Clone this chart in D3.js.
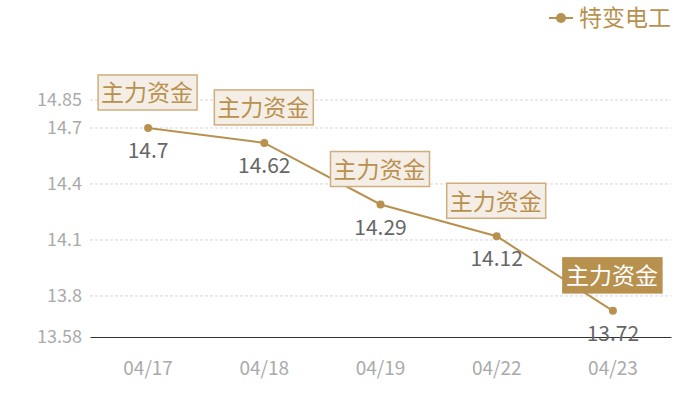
<!DOCTYPE html>
<html>
<head>
<meta charset="utf-8">
<script src="https://cdn.jsdelivr.net/npm/d3@7"></script>
<style>
  body { margin: 0; background: #fff; }
  svg { font-family: "Noto Sans CJK SC", "Noto Sans", sans-serif; }
</style>
</head>
<body>
<div id="chart"></div>
<script>
// chart data
const DATES = ["04/17", "04/18", "04/19", "04/22", "04/23"];
const PRICES = [14.7, 14.62, 14.29, 14.12, 13.72];
const Y_TICKS = [13.58, 13.8, 14.1, 14.4, 14.7, 14.85];
const SERIES_NAME = "特变电工";
const MARK_TEXT = "主力资金";

const FRAME_WIDTH = 700;
const FRAME_HEIGHT = 400;
const MARGINS = {left: 90, right: 29, top: 100, bottom: 63};
const GOLD = "#b8914f";

const svg = d3.select("#chart")
  .append("svg")
    .attr("width", FRAME_WIDTH)
    .attr("height", FRAME_HEIGHT);

const X_SCALE = d3.scaleBand()
  .domain(DATES)
  .range([MARGINS.left, FRAME_WIDTH - MARGINS.right]);

const Y_SCALE = d3.scaleLinear()
  .domain([13.58, 14.85])
  .range([FRAME_HEIGHT - MARGINS.bottom, MARGINS.top]);

const cx = (d) => X_SCALE(d) + X_SCALE.bandwidth() / 2;

// grid lines
svg.append("g")
  .selectAll("line")
  .data(Y_TICKS.slice(1))
  .enter()
  .append("line")
    .attr("x1", MARGINS.left)
    .attr("x2", FRAME_WIDTH - MARGINS.right)
    .attr("y1", (d) => Y_SCALE(d))
    .attr("y2", (d) => Y_SCALE(d))
    .attr("stroke", "#d6d6d6")
    .attr("stroke-dasharray", "3,2");

// y axis labels
svg.append("g")
  .selectAll("text")
  .data(Y_TICKS)
  .enter()
  .append("text")
    .attr("x", MARGINS.left - 8)
    .attr("y", (d) => Y_SCALE(d))
    .attr("dy", "0.35em")
    .attr("text-anchor", "end")
    .attr("font-size", "18px")
    .attr("fill", "#aaaaaa")
    .text((d) => d);

// x axis
const xAxis = svg.append("g")
  .attr("transform", "translate(0," + Y_SCALE(13.58) + ")")
  .call(d3.axisBottom(X_SCALE).tickSize(0).tickPadding(25));
xAxis.select(".domain").attr("stroke", "#333").attr("stroke-width", 1);
xAxis.selectAll("text")
  .attr("font-size", "19px")
  .attr("fill", "#aaaaaa")
  .attr("font-family", "\"Noto Sans CJK SC\", sans-serif");

// line
const line = d3.line()
  .x((d, i) => cx(DATES[i]))
  .y((d) => Y_SCALE(d));

svg.append("path")
  .datum(PRICES)
  .attr("d", line)
  .attr("fill", "none")
  .attr("stroke", GOLD)
  .attr("stroke-width", 2);

// points
svg.append("g")
  .selectAll("circle")
  .data(PRICES)
  .enter()
  .append("circle")
    .attr("cx", (d, i) => cx(DATES[i]))
    .attr("cy", (d) => Y_SCALE(d))
    .attr("r", 4)
    .attr("fill", GOLD);

// value labels
svg.append("g")
  .selectAll("text")
  .data(PRICES)
  .enter()
  .append("text")
    .attr("x", (d, i) => cx(DATES[i]))
    .attr("y", (d) => Y_SCALE(d) + 30)
    .attr("text-anchor", "middle")
    .attr("font-size", "21px")
    .attr("fill", "#666666")
    .text((d) => d);

// annotation boxes
const marks = svg.append("g")
  .selectAll("g")
  .data(PRICES)
  .enter()
  .append("g")
    .attr("transform", (d, i) => "translate(" + cx(DATES[i]) + "," + (Y_SCALE(d) - 18) + ")");

marks.append("rect")
  .attr("x", -50)
  .attr("y", -35)
  .attr("width", 99)
  .attr("height", 35)
  .attr("fill", (d, i) => i === PRICES.length - 1 ? GOLD : "#f4eee6")
  .attr("stroke", (d, i) => i === PRICES.length - 1 ? GOLD : "#cfae7e")
  .attr("stroke-width", 1.5);

marks.append("text")
  .attr("x", -1)
  .attr("y", -17)
  .attr("dy", "0.36em")
  .attr("text-anchor", "middle")
  .attr("font-size", "23px")
  .attr("fill", (d, i) => i === PRICES.length - 1 ? "#ffffff" : GOLD)
  .text(MARK_TEXT);

// legend
const legend = svg.append("g").attr("transform", "translate(549,18)");
legend.append("line")
  .attr("x1", 0).attr("x2", 24)
  .attr("stroke", GOLD).attr("stroke-width", 2);
legend.append("circle")
  .attr("cx", 12).attr("r", 5).attr("fill", GOLD);
legend.append("text")
  .attr("x", 30)
  .attr("dy", "0.36em")
  .attr("font-size", "23px")
  .attr("fill", GOLD)
  .text(SERIES_NAME);
</script>
</body>
</html>
